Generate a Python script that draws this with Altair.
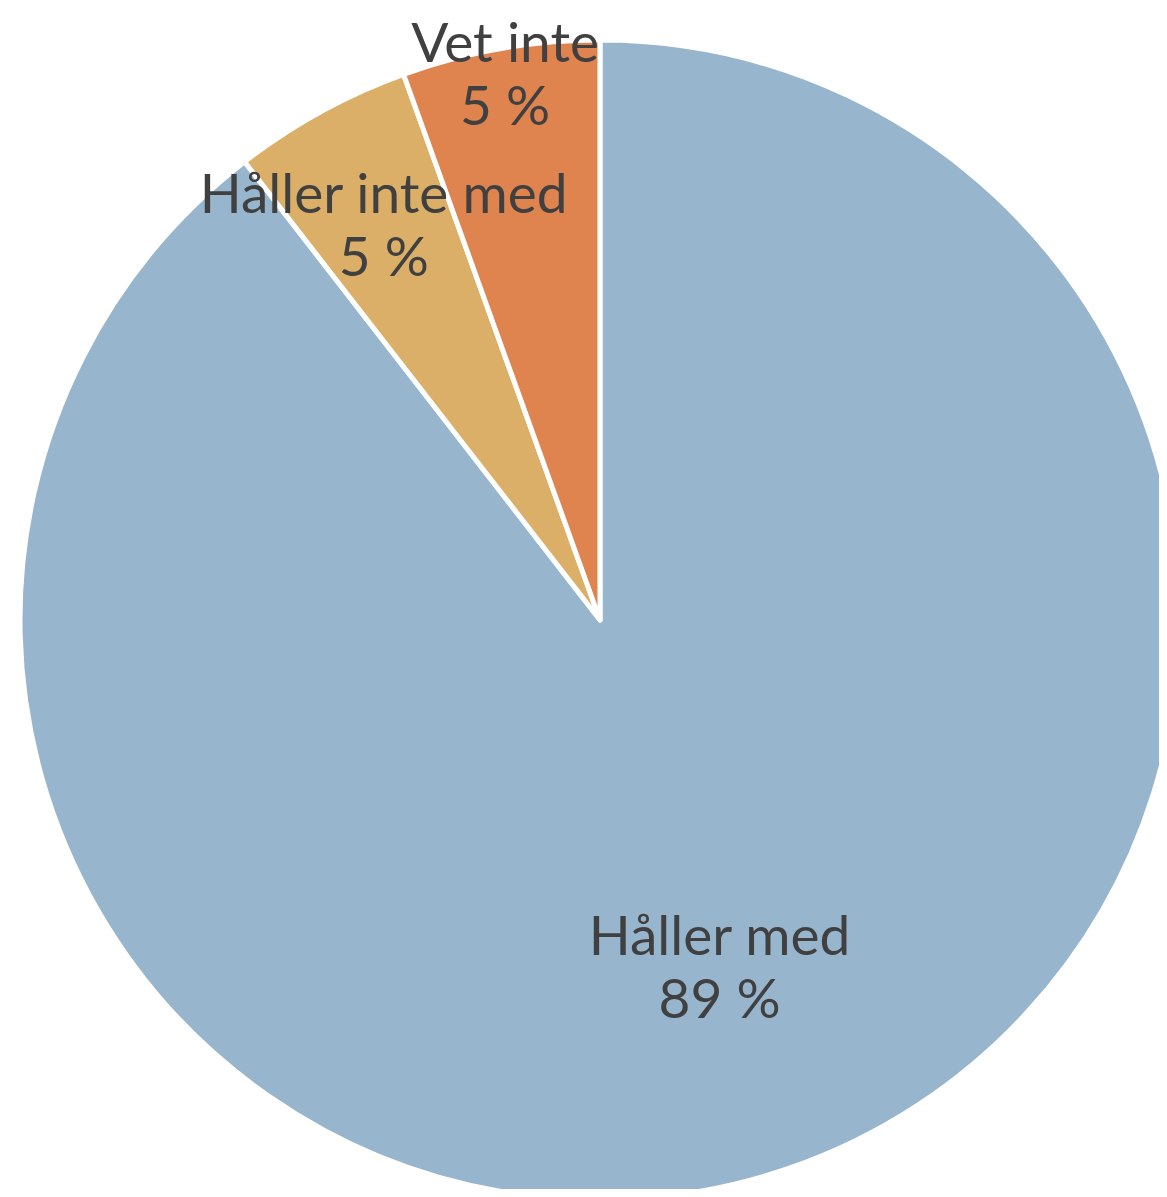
import altair as alt
import pandas as pd

categories = ["Håller med", "Håller inte med", "Vet inte"]
values = [89.5, 5.0, 5.5]
pct_labels = ["89 %", "5 %", "5 %"]
colors = ["#97B6CE", "#DCAF68", "#DF834F"]

df = pd.DataFrame({"cat": categories, "val": values, "pct": pct_labels,
                   "order": [0, 1, 2]})

CX, CY, R = 592, 612, 580

base = alt.Chart(df).encode(
    theta=alt.Theta("val:Q", stack=True),
    order=alt.Order("order:Q"),
)

arcs = base.mark_arc(
    radius=R, stroke="white", strokeWidth=5, strokeJoin="round"
).encode(
    color=alt.Color("cat:N", scale=alt.Scale(domain=categories, range=colors), legend=None),
    x=alt.value(CX), y=alt.value(CY),
)

label_radius = {"Håller med": 369, "Håller inte med": 449, "Vet inte": 552}

texts = []
for c in categories:
    t = base.mark_text(
        font="Lato", fontSize=55, color="#404040", lineHeight=63,
        align="center", baseline="middle", dy=-31,
    ).transform_calculate(
        label="[datum.cat, datum.pct]"
    ).encode(
        text=alt.Text("label:N"),
        x=alt.value(CX), y=alt.value(CY),
        radius=alt.value(label_radius[c]),
        opacity=alt.condition(alt.datum.cat == c, alt.value(1), alt.value(0)),
    )
    texts.append(t)

chart = alt.layer(arcs, *texts).properties(
    width=1151, height=1181, padding=0, autosize="none"
).configure_view(stroke=None)

chart.save("out.html", embed_options={"renderer": "svg", "actions": False})
